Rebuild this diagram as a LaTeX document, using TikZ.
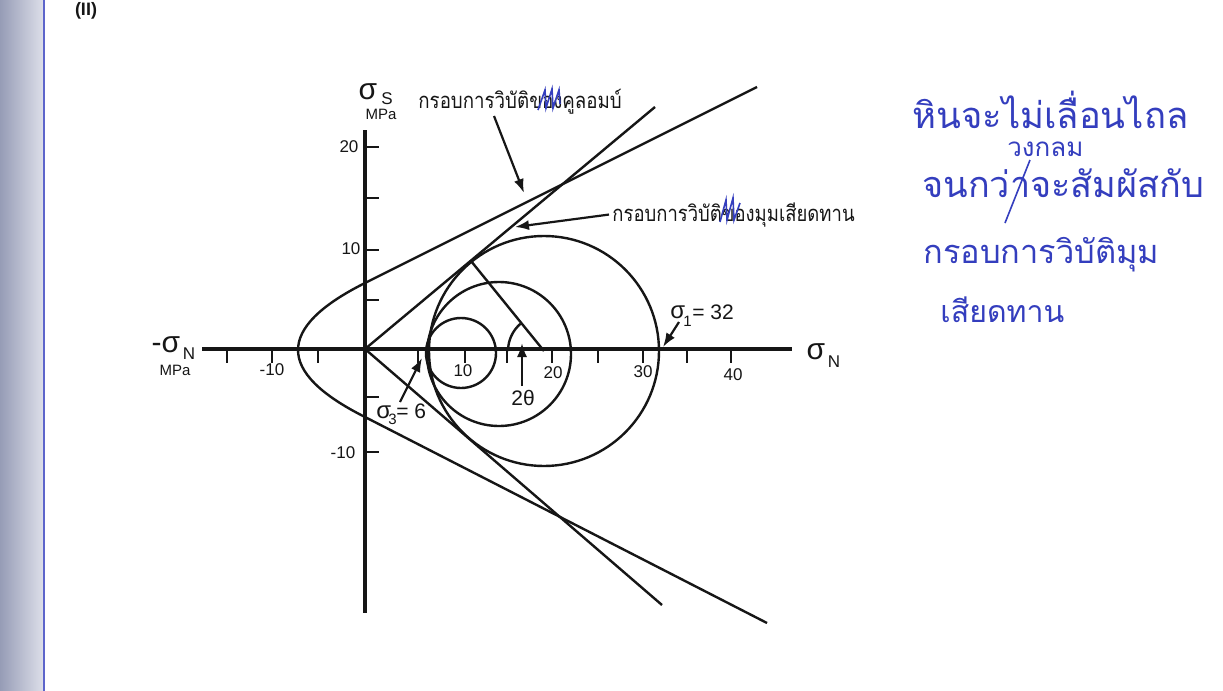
\documentclass[tikz,border=0pt]{standalone}
\usepackage{fontspec}
\usepackage{graphicx}
\setmainfont{Liberation Sans}
\newfontfamily\thaifont[Script=Thai]{Loma}
\usetikzlibrary{arrows.meta}
\definecolor{ink}{RGB}{52,62,190}
\definecolor{pen}{RGB}{22,22,22}
\definecolor{scanL}{RGB}{150,156,182}
\definecolor{scanR}{RGB}{222,224,234}
\newcommand\handline[2]{\resizebox{#1pt}{!}{\thaifont #2}}
\begin{document}
\begin{tikzpicture}[x=0.5pt,y=-0.5pt,
  axis/.style={pen,line width=1.6pt},
  curve/.style={pen,line width=1.2pt},
  tickmark/.style={pen,line width=1.3pt},
  arr/.style={pen,line width=1.1pt,-{Latex[length=7pt,width=5pt]}},
  num/.style={inner sep=0pt,text=pen,font=\fontsize{8.5}{9}\selectfont},
  lab/.style={inner sep=0pt,text=pen},
  thai/.style={inner sep=0pt,text=pen,font=\thaifont\fontsize{11}{12}\selectfont},
  hand/.style={inner sep=0pt,text=ink},
  scribble/.style={ink,line width=0.8pt}]
\useasboundingbox (0,0) rectangle (1223,691);
\fill[white] (0,0) rectangle (1223,691);
% scanned page edge
\shade[left color=scanL,right color=scanR] (0,0) rectangle (44,691);
\draw[ink!80,line width=0.6pt] (44,0) -- (44,691);
\node[lab,font=\bfseries\fontsize{9}{10}\selectfont] (fig) at (86,11) {(II)};

% axes
\coordinate (O) at (365,349);
\coordinate (xl) at (202,349);
\coordinate (xr) at (792,349);
\coordinate (yt) at (365,130);
\coordinate (yb) at (365,613);
\draw[axis] (xl) -- (xr);
\draw[axis] (yt) -- (yb);
\foreach \x in {227,272,318,418,465,507,552,598,643,687,731}
  \draw[tickmark] (\x,349) -- (\x,363);
\foreach \y in {147,198,250,300,397,452}
  \draw[tickmark] (365,\y) -- (379,\y);

% tick labels
\node[num] (xm10) at (272,370) {-10};
\node[num] (x10) at (463,371) {10};
\node[num] (x20) at (553,373) {20};
\node[num] (x30) at (643,372) {30};
\node[num] (x40) at (733,375) {40};
\node[num] (y20) at (349,147) {20};
\node[num] (y10) at (351,249) {10};
\node[num] (ym10) at (343,453) {-10};

% axis titles
\node[lab,font=\fontsize{15}{15}\selectfont] (sN) at (816,352) {σ};
\node[lab,font=\fontsize{8.5}{9}\selectfont] (sNsub) at (834,362) {N};
\node[lab,font=\fontsize{15}{15}\selectfont] (msN) at (166,345) {-σ};
\node[lab,font=\fontsize{8.5}{9}\selectfont] (msNsub) at (189,354) {N};
\node[lab,font=\fontsize{7.5}{8}\selectfont] (msNu) at (175,370) {MPa};
\node[lab,font=\fontsize{15}{15}\selectfont] (sS) at (368,92) {σ};
\node[lab,font=\fontsize{8.5}{9}\selectfont] (sSsub) at (387,99) {S};
\node[lab,font=\fontsize{7.5}{8}\selectfont] (sSu) at (381,114) {MPa};

% Mohr circles
\coordinate (cB) at (544,351);
\coordinate (cM) at (499,354);
\coordinate (cS) at (461,353);
\draw[curve] (cB) circle[radius=115];
\draw[curve] (cM) circle[radius=72];
\draw[curve] (cS) circle[radius=35];
\coordinate (tp) at (471,261);
\draw[curve] (cB) -- (tp);
\draw[curve] (508,351) arc[start angle=180,end angle=229,radius=36];

% Coulomb envelope (parabolic tension cut-off + straight line)
\coordinate (cu) at (757,87);
\coordinate (cl) at (767,623);
\draw[curve] (cu) -- (365,283) .. controls (275.7,327.7) and (275.7,372.3) .. (365,417) -- (cl);
% friction angle envelope
\coordinate (fu) at (655,107);
\coordinate (fl) at (662,605);
\draw[curve] (fu) -- (O) -- (fl);

% labels of envelopes
\node[thai,anchor=base west] (labC) at (418,108) {\scalebox{0.85}[1]{กรอบการวิบัติของคูลอมบ์}};
\node[thai,anchor=base west] (labF) at (612,221) {\scalebox{0.84}[1]{กรอบการวิบัติของมุมเสียดทาน}};
\coordinate (aCs) at (494,116);
\coordinate (aCe) at (524,193);
\draw[arr] (aCs) -- (aCe);
\coordinate (aFe) at (515,227);
\draw[arr] (labF.west) ++(-3,0) coordinate (aFs) -- (aFe);
% blue scribbles over printed words
\draw[scribble] (538,110) -- (545,90) -- (546,108) -- (552,89) -- (553,108) -- (559,90) -- (560,104);
\draw[scribble] (720,222) -- (726,200) -- (727,220) -- (733,198) -- (734,220) -- (740,203);

% sigma labels and arrows
\node[lab,font=\fontsize{12}{12}\selectfont,anchor=base west] (s3) at (376,418) {σ};
\node[lab,font=\fontsize{7.5}{8}\selectfont,anchor=base west] (s3sub) at (388,424) {3};
\node[lab,font=\fontsize{10.5}{11}\selectfont,anchor=base west] (s3v) at (396,418) {= 6};
\coordinate (a3s) at (400,402);
\coordinate (a3e) at (422,358);
\draw[arr] (a3s) -- (a3e);

\node[lab,font=\fontsize{12}{12}\selectfont,anchor=base west] (s1) at (670,318) {σ};
\node[lab,font=\fontsize{7.5}{8}\selectfont,anchor=base west] (s1sub) at (683,326) {1};
\node[lab,font=\fontsize{10.5}{11}\selectfont,anchor=base west] (s1v) at (692,319) {= 32};
\coordinate (a1s) at (679,322);
\coordinate (a1e) at (663,347);
\draw[arr] (a1s) -- (a1e);

\node[lab,font=\fontsize{10.5}{11}\selectfont] (tt) at (523,398) {2θ};
\coordinate (aTs) at (522,386);
\coordinate (aTe) at (522,343);
\draw[arr] (aTs) -- (aTe);

% handwritten note
\node[hand,anchor=base west] (h1) at (912,128) {\handline{138}{หินจะไม่เลื่อนไถล}};
\node[hand,anchor=base west] (h2a) at (1007,156) {\handline{38}{วงกลม}};
\node[hand,anchor=base west] (h2) at (922,197) {\handline{141}{จนกว่าจะสัมผัสกับ}};
\draw[ink,line width=0.8pt] (1005,223) -- (1030,160);
\node[hand,anchor=base west] (h3) at (923,263) {\handline{118}{กรอบการวิบัติมุม}};
\node[hand,anchor=base west] (h4) at (940,322) {\handline{62}{เสียดทาน}};
\end{tikzpicture}
\end{document}
